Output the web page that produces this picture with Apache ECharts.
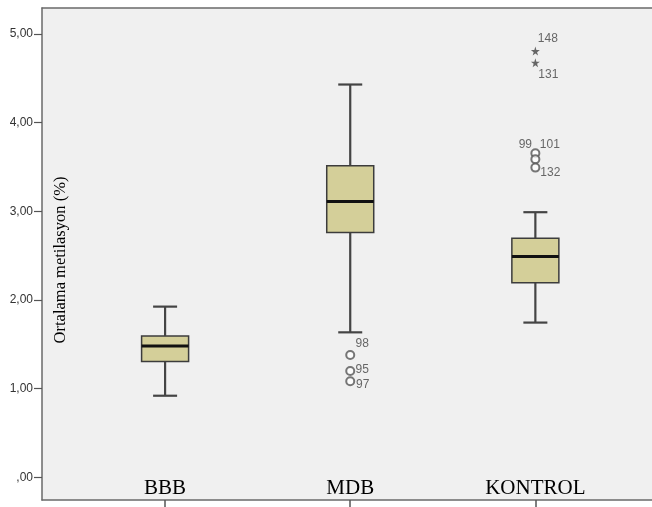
<!DOCTYPE html>
<html>
<head>
<meta charset="utf-8">
<script src="https://cdn.jsdelivr.net/npm/echarts@6/dist/echarts.min.js"></script>
<style>
html,body{margin:0;padding:0;background:#fff;}
#chart{width:652px;height:507px;}
</style>
</head>
<body>
<div id="chart"></div>
<script>
// ---- data ----
const categories = ['BBB', 'MDB', 'KONTROL'];
const boxMin    = [0.92, 1.635, 1.745];
const boxQ1     = [1.305, 2.76, 2.195];
const boxMedian = [1.48, 3.11, 2.49];
const boxQ3     = [1.595, 3.515, 2.695];
const boxMax    = [1.925, 4.43, 2.99];
const yTickValues = [0, 1, 2, 3, 4, 5];

// outliers (circles)
const outlierCategory = ['MDB', 'MDB', 'MDB', 'KONTROL', 'KONTROL', 'KONTROL'];
const outlierValues   = [1.379, 1.199, 1.083, 3.654, 3.587, 3.493];
const outlierIds      = ['98', '95', '97', '99', '101', '132'];
// extreme values (stars)
const extremeCategory = ['KONTROL', 'KONTROL'];
const extremeValues   = [4.808, 4.676];
const extremeIds      = ['148', '131'];

// ---- style lookups ----
const labelOffsets = {
  '98': [12, -11], '95': [12, -1], '97': [12.5, 3],
  '99': [-10, -9], '101': [14.5, -15], '132': [15, 4.6],
  '148': [12.5, -12.5], '131': [13, 11.5]
};
const BOX_W = 47, CAP_W = 24;
const STAR = 'path://M50,0 L61,35 L98,35 L68,57 L79,91 L50,70 L21,91 L32,57 L2,35 L39,35 Z';

const catX = c => categories.indexOf(c) + 1;
const boxData = categories.map((c, i) => [i + 1, boxMin[i], boxQ1[i], boxMedian[i], boxQ3[i], boxMax[i]]);
const pointData = (cats, vals, ids) => cats.map((c, i) => ({
  value: [catX(c), vals[i]],
  label: { offset: labelOffsets[ids[i]] },
  name: ids[i]
}));

const axisLineStyle = { color: '#6a6a6a', width: 1.5 };
const chart = echarts.init(document.getElementById('chart'), null, { renderer: 'canvas' });
chart.setOption({
  animation: false,
  backgroundColor: '#ffffff',
  grid: {
    left: 42, top: 8, right: -2, bottom: 7,
    show: true, backgroundColor: '#f0f0f0', borderWidth: 0
  },
  xAxis: [{
    type: 'value', min: 0.3351, max: 3.630, position: 'bottom',
    splitLine: { show: false },
    axisLine: { show: true, onZero: false, lineStyle: axisLineStyle },
    axisTick: { show: true, customValues: [1, 2, 3], length: 7, lineStyle: { color: '#555', width: 1.5 } },
    axisLabel: {
      customValues: [1, 2, 3], inside: true, margin: 1,
      formatter: v => categories[Math.round(v) - 1],
      fontFamily: 'Liberation Serif', fontSize: 21, color: '#000'
    }
  }, {
    type: 'value', min: 0.3351, max: 3.630, position: 'top',
    splitLine: { show: false },
    axisLine: { show: true, onZero: false, lineStyle: axisLineStyle },
    axisTick: { show: false }, axisLabel: { show: false }
  }],
  yAxis: {
    type: 'value', min: -0.256, max: 5.293,
    splitLine: { show: false },
    axisLine: { show: true, onZero: false, lineStyle: axisLineStyle },
    axisTick: { show: true, customValues: yTickValues, length: 8, lineStyle: { color: '#555', width: 1.2 } },
    axisLabel: {
      customValues: yTickValues, margin: 9,
      formatter: v => (v === 0 ? ',00' : v.toFixed(2).replace('.', ',')),
      fontFamily: 'Liberation Sans', fontSize: 12, color: '#333'
    },
    name: 'Ortalama metilasyon (%)',
    nameLocation: 'middle', nameGap: -27,
    nameTextStyle: { fontFamily: 'Liberation Serif', fontSize: 16.5, color: '#000', padding: [0, 12, 0, 0] }
  },
  series: [
    {
      type: 'custom',
      data: boxData,
      encode: { x: 0, y: [1, 2, 3, 4, 5] },
      renderItem: function (params, api) {
        const x = api.value(0);
        const pMin = api.coord([x, api.value(1)]);
        const pQ1 = api.coord([x, api.value(2)]);
        const pMed = api.coord([x, api.value(3)]);
        const pQ3 = api.coord([x, api.value(4)]);
        const pMax = api.coord([x, api.value(5)]);
        const cx = pMin[0];
        const wStyle = { stroke: '#444', lineWidth: 2.2 };
        return {
          type: 'group',
          children: [
            { type: 'line', shape: { x1: cx, y1: pMax[1], x2: cx, y2: pQ3[1] }, style: wStyle },
            { type: 'line', shape: { x1: cx, y1: pQ1[1], x2: cx, y2: pMin[1] }, style: wStyle },
            { type: 'line', shape: { x1: cx - CAP_W / 2, y1: pMax[1], x2: cx + CAP_W / 2, y2: pMax[1] }, style: wStyle },
            { type: 'line', shape: { x1: cx - CAP_W / 2, y1: pMin[1], x2: cx + CAP_W / 2, y2: pMin[1] }, style: wStyle },
            { type: 'rect', shape: { x: cx - BOX_W / 2, y: pQ3[1], width: BOX_W, height: pQ1[1] - pQ3[1] },
              style: { fill: '#d4cf99', stroke: '#3c3c3c', lineWidth: 1.5 } },
            { type: 'line', shape: { x1: cx - BOX_W / 2, y1: pMed[1], x2: cx + BOX_W / 2, y2: pMed[1] },
              style: { stroke: '#111', lineWidth: 3 } }
          ]
        };
      },
      z: 2
    },
    {
      type: 'scatter',
      data: pointData(outlierCategory, outlierValues, outlierIds),
      symbol: 'emptyCircle', symbolSize: 8,
      itemStyle: { color: '#555', borderColor: '#555', borderWidth: 1 },
      label: { show: true, position: 'inside', formatter: p => p.name,
        fontFamily: 'Liberation Sans', fontSize: 12, color: '#444' },
      z: 3
    },
    {
      type: 'scatter',
      data: pointData(extremeCategory, extremeValues, extremeIds),
      symbol: STAR, symbolSize: 9,
      itemStyle: { color: '#444' },
      label: { show: true, position: 'inside', formatter: p => p.name,
        fontFamily: 'Liberation Sans', fontSize: 12, color: '#444' },
      z: 3
    }
  ]
});
</script>
</body>
</html>
